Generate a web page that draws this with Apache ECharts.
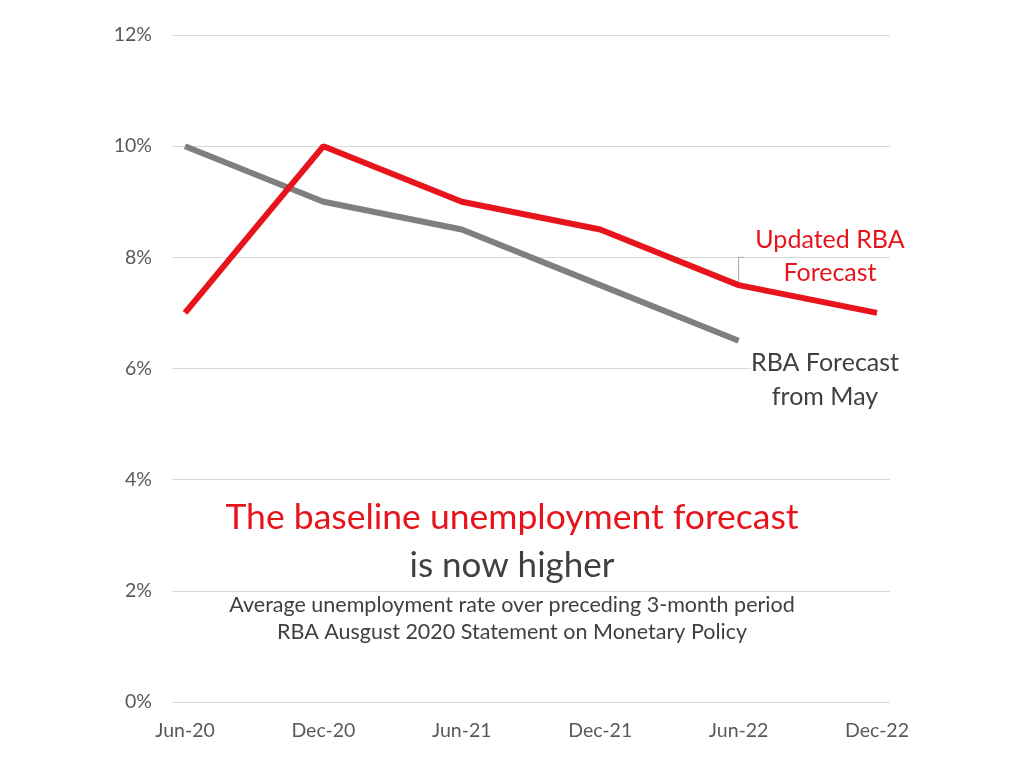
<!DOCTYPE html>
<html><head><meta charset="utf-8">
<script src="https://cdn.jsdelivr.net/npm/echarts@6/dist/echarts.min.js"></script>
<style>html,body{margin:0;padding:0;background:#fff}#c{width:1023px;height:767px}</style>
</head><body><div id="c"></div>
<script>
const categories = ['Jun-20','Dec-20','Jun-21','Dec-21','Jun-22','Dec-22'];
const updatedRBA = [7, 10, 9, 8.5, 7.5, 7];
const mayRBA = [10, 9, 8.5, 7.5, 6.5, null];
const yTicks = [0, 2, 4, 6, 8, 10, 12];
const connector = [[4, 7.5], [4, 8.0], [4.04, 8.0]];

const FONT = 'Lato, "Open Sans", sans-serif';
const chart = echarts.init(document.getElementById('c'));
const toPts = arr => arr.map((v, i) => v == null ? null : [i, v]).filter(p => p);
const txt = (text, x, y, size, fill, bg) => ({type: 'text', x: x, y: y, z: 100,
  style: {text: text, fill: fill, font: size + 'px ' + FONT, textAlign: 'center', textVerticalAlign: 'middle',
    backgroundColor: bg || 'transparent'}});
chart.setOption({
  animation: false,
  grid: {left: 172, right: 133, top: 35, bottom: 65, containLabel: false},
  xAxis: {
    type: 'value', min: -0.094, max: 5.094,
    axisLine: {show: false}, axisTick: {show: false}, splitLine: {show: false},
    axisLabel: {customValues: categories.map((c, i) => i), formatter: v => categories[Math.round(v)],
      color: '#595959', fontSize: 19.5, fontFamily: FONT, margin: 19}
  },
  yAxis: {
    type: 'value', min: yTicks[0], max: yTicks[yTicks.length - 1], interval: 2,
    axisLine: {show: false}, axisTick: {show: false},
    splitLine: {lineStyle: {color: '#d9d9d9', width: 1}},
    axisLabel: {formatter: '{value}%', color: '#595959', fontSize: 19.5, fontFamily: FONT, margin: 20}
  },
  series: [
    {name: 'RBA Forecast from May', type: 'line', data: toPts(mayRBA), symbol: 'none',
      lineStyle: {color: '#7f7f7f', width: 6}, z: 2},
    {name: 'Updated RBA Forecast', type: 'line', data: toPts(updatedRBA), symbol: 'none',
      lineStyle: {color: '#e8141c', width: 6}, z: 3},
    {name: 'connector', type: 'line', data: connector, symbol: 'none', silent: true,
      lineStyle: {color: '#a6a6a6', width: 1}, z: 1}
  ],
  graphic: [
    txt('Updated RBA', 830, 240, 25, '#e8141c'),
    txt('Forecast', 830, 273, 25, '#e8141c'),
    txt('RBA Forecast', 825, 363, 25, '#404040', '#ffffff'),
    txt('from May', 825, 397, 25, '#404040'),
    txt('The baseline unemployment forecast', 512, 518, 35.5, '#e8141c'),
    txt('is now higher', 512, 566, 35, '#404040'),
    txt('Average unemployment rate over preceding 3-month period', 512, 605, 21.5, '#404040'),
    txt('RBA Ausgust 2020 Statement on Monetary Policy', 512, 632, 21.5, '#404040')
  ]
});
</script></body></html>
